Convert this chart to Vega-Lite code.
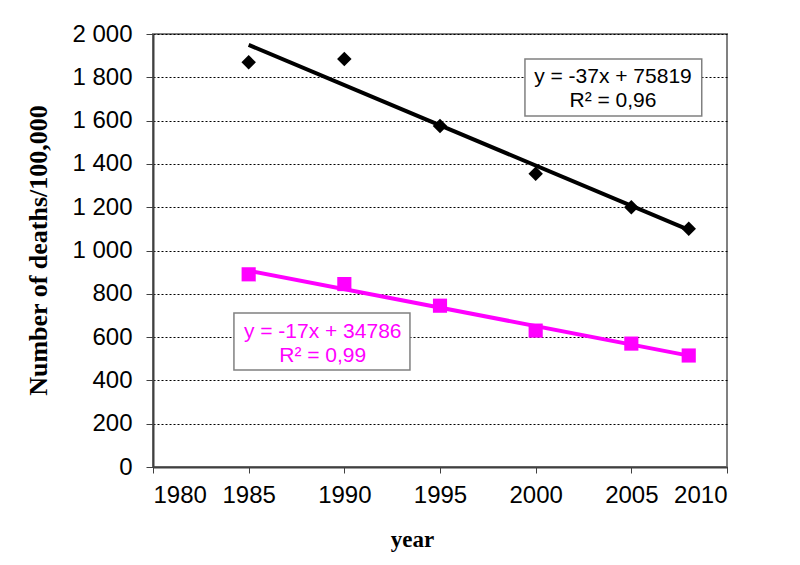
{
  "$schema": "https://vega.github.io/schema/vega-lite/v6.json",
  "width": 574,
  "height": 433,
  "autosize": {"type": "none"},
  "padding": {"left": 153, "top": 34, "right": 73, "bottom": 98},
  "background": "white",
  "config": {
    "view": {"stroke": "#808080", "strokeWidth": 2},
    "font": "Liberation Sans"
  },
  "datasets": {
    "pts": [
      {"series": "A", "year": 1985, "deaths": 1870},
      {"series": "A", "year": 1990, "deaths": 1885},
      {"series": "A", "year": 1995, "deaths": 1575},
      {"series": "A", "year": 2000, "deaths": 1355},
      {"series": "A", "year": 2005, "deaths": 1200},
      {"series": "A", "year": 2008, "deaths": 1100},
      {"series": "B", "year": 1985, "deaths": 890},
      {"series": "B", "year": 1990, "deaths": 845},
      {"series": "B", "year": 1995, "deaths": 745},
      {"series": "B", "year": 2000, "deaths": 630},
      {"series": "B", "year": 2005, "deaths": 570},
      {"series": "B", "year": 2008, "deaths": 515}
    ],
    "notes": [
      {"series": "A", "year": 1999.44, "year2": 2008.68, "deaths": 1884, "deaths2": 1621, "tx": 2004.04, "ty": 1801, "label": ["y = -37x + 75819", "R² = 0,96"]},
      {"series": "B", "year": 1984.23, "year2": 1993.43, "deaths": 711, "deaths2": 448, "tx": 1988.87, "ty": 623, "label": ["y = -17x + 34786", "R² = 0,99"]}
    ]
  },
  "layer": [
    {
      "data": {"name": "pts"},
      "mark": {"type": "point", "filled": true, "opacity": 1},
      "encoding": {
        "x": {
          "field": "year", "type": "quantitative",
          "scale": {"domain": [1980, 2010], "nice": false, "zero": false},
          "axis": {
            "title": "year", "values": [1980, 1985, 1990, 1995, 2000, 2005, 2010],
            "format": "d", "grid": false,
            "labelFont": "Liberation Sans", "labelFontSize": 24, "labelColor": "black",
            "labelPadding": 10, "tickSize": 6, "tickColor": "#404040",
            "domainColor": "#404040", "domainWidth": 2,
            "titleFont": "Liberation Serif", "titleFontWeight": "bold", "titleFontSize": 23,
            "titleColor": "black", "titleX": 259, "titleY": 79, "titleBaseline": "alphabetic"
          }
        },
        "y": {
          "field": "deaths", "type": "quantitative",
          "scale": {"domain": [0, 2000], "nice": false},
          "axis": {
            "title": "Number of deaths/100,000",
            "values": [0, 200, 400, 600, 800, 1000, 1200, 1400, 1600, 1800, 2000],
            "labelExpr": "replace(format(datum.value, ','), ',', ' ')",
            "grid": true, "gridColor": "black", "gridDash": [2, 2], "gridWidth": 1,
            "labelFont": "Liberation Sans", "labelFontSize": 24, "labelColor": "black",
            "labelPadding": 14, "tickSize": 7, "tickColor": "#404040",
            "domainColor": "#404040", "domainWidth": 2,
            "titleFont": "Liberation Serif", "titleFontWeight": "bold", "titleFontSize": 26,
            "titleColor": "black", "titleX": -102, "titleY": 216
          }
        },
        "color": {"field": "series", "type": "nominal", "scale": {"domain": ["A", "B"], "range": ["black", "#ff00ff"]}, "legend": null},
        "shape": {"field": "series", "type": "nominal", "scale": {"domain": ["A", "B"], "range": ["diamond", "square"]}, "legend": null},
        "size": {"field": "series", "type": "nominal", "scale": {"domain": ["A", "B"], "range": [210, 200]}, "legend": null}
      }
    },
    {
      "data": {"name": "pts"},
      "transform": [{"regression": "deaths", "on": "year", "groupby": ["series"]}],
      "mark": {"type": "line", "strokeWidth": 4},
      "encoding": {
        "x": {"field": "year", "type": "quantitative", "title": "year"},
        "y": {"field": "deaths", "type": "quantitative", "title": "Number of deaths/100,000"},
        "color": {"field": "series", "type": "nominal", "legend": null}
      }
    },
    {
      "data": {"name": "notes"},
      "mark": {"type": "rect", "fill": "white", "stroke": "#808080", "strokeWidth": 1.5},
      "encoding": {
        "x": {"field": "year", "type": "quantitative", "title": "year"},
        "x2": {"field": "year2"},
        "y": {"field": "deaths", "type": "quantitative", "title": "Number of deaths/100,000"},
        "y2": {"field": "deaths2"}
      }
    },
    {
      "data": {"name": "notes"},
      "mark": {"type": "text", "font": "Liberation Sans", "fontSize": 21, "lineHeight": 24, "align": "center", "baseline": "middle"},
      "encoding": {
        "x": {"field": "tx", "type": "quantitative", "title": "year"},
        "y": {"field": "ty", "type": "quantitative", "title": "Number of deaths/100,000"},
        "text": {"field": "label"},
        "color": {"field": "series", "type": "nominal", "legend": null}
      }
    }
  ]
}
